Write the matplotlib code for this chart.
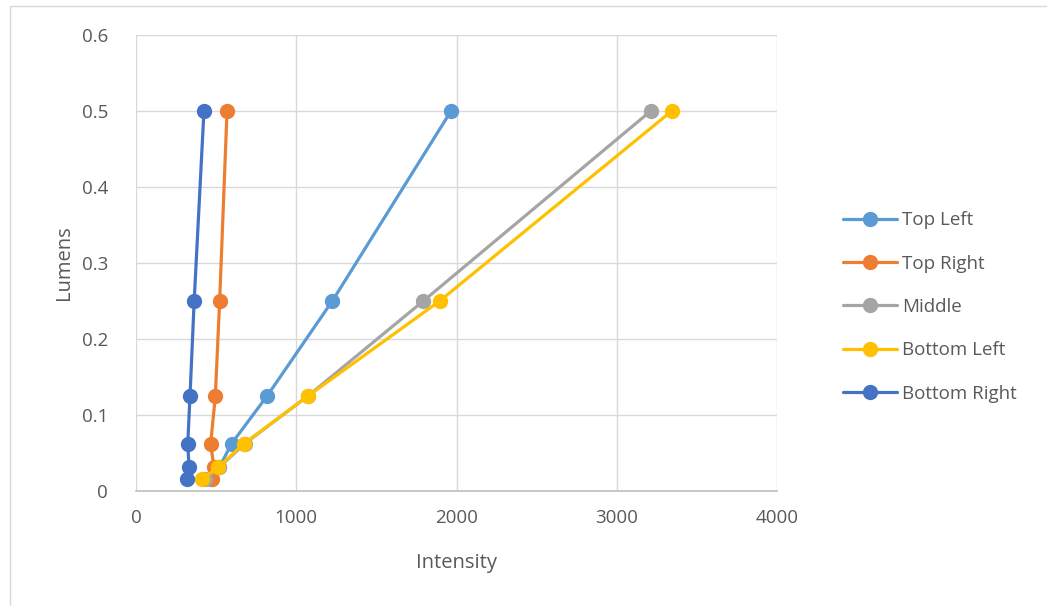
import matplotlib.pyplot as plt
from matplotlib.patches import Rectangle

lumens = [0.015625, 0.03125, 0.0625, 0.125, 0.25, 0.5]

top_left = [470, 520, 597, 818, 1225, 1966]
top_right = [474, 486, 466, 495, 522, 568]
middle = [430, 520, 680, 1073, 1793, 3212]
bottom_left = [410, 514, 674, 1073, 1895, 3343]
bottom_right = [316, 331, 323, 337, 363, 424]

names = ["Top Left", "Top Right", "Middle", "Bottom Left", "Bottom Right"]
series = [top_left, top_right, middle, bottom_left, bottom_right]
colors = ["#5B9BD5", "#ED7D31", "#A5A5A5", "#FFC000", "#4472C4"]

plt.rcParams['font.family'] = ['Open Sans', 'DejaVu Sans']

W, H = 1047, 606
fig = plt.figure(figsize=(W / 100, H / 100), dpi=100)
fig.patches.append(Rectangle((10 / W, -0.1), 1.2, 1 - 6 / H + 0.1, transform=fig.transFigure,
                             fill=False, edgecolor="#d9d9d9", linewidth=1))

ax = fig.add_axes([136 / W, 1 - 491 / H, (777 - 136) / W, (491 - 35) / H])

for name, xs, c in zip(names, series, colors):
    ax.plot(xs, lumens, color=c, linewidth=2.3, marker="o", markersize=10,
            label=name, solid_capstyle="round")

ax.set_xlim(0, 4000)
ax.set_ylim(0, 0.6)
ax.set_xticks([0, 1000, 2000, 3000, 4000])
ax.set_yticks([0, 0.1, 0.2, 0.3, 0.4, 0.5, 0.6])
ax.set_yticklabels(["0", "0.1", "0.2", "0.3", "0.4", "0.5", "0.6"])
ax.grid(True, color="#d9d9d9", linewidth=1)
ax.set_axisbelow(True)
for s in ["top", "right", "left"]:
    ax.spines[s].set_visible(False)
ax.spines["bottom"].set_color("#bfbfbf")
ax.spines["bottom"].set_linewidth(1.2)
ax.tick_params(length=0, labelsize=13.5, colors="#595959", pad=13)
ax.tick_params(axis="y", pad=20)

ax.set_xlabel("Intensity", fontsize=14.5, color="#595959", labelpad=19)
ax.set_ylabel("Lumens", fontsize=14.5, color="#595959", labelpad=6)

fig.legend(loc="center left", bbox_to_anchor=(826 / W, 1 - 307 / H), frameon=False,
           fontsize=13.5, labelcolor="#595959", handlelength=2.9,
           labelspacing=1.35, handletextpad=0.25)

fig.savefig("out.png", dpi=100)
